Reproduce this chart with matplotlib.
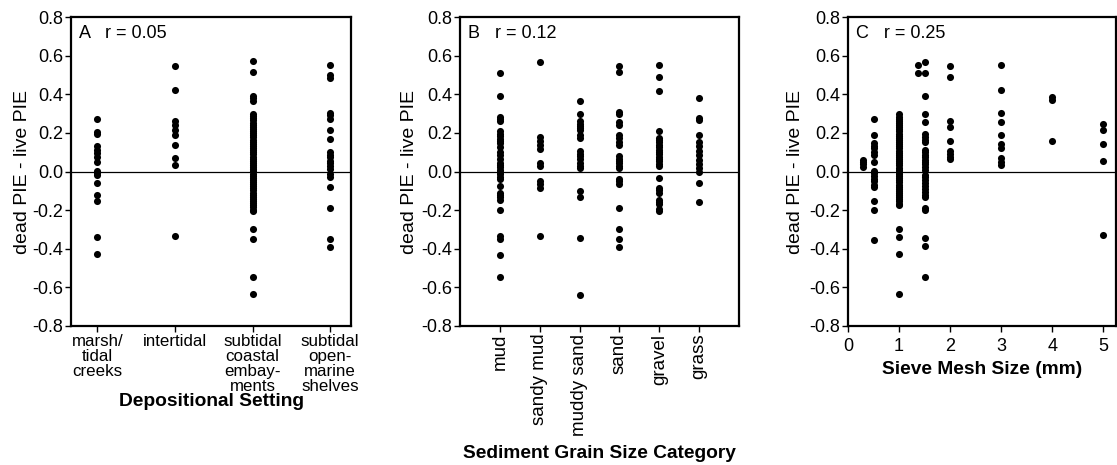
import matplotlib.pyplot as plt

plt.rcParams['font.family'] = ['Liberation Sans', 'DejaVu Sans']

# Panel A: depositional setting
setting_labels = ["marsh/\ntidal\ncreeks", "intertidal", "subtidal\ncoastal\nembay-\nments",
                  "subtidal\nopen-\nmarine\nshelves"]
marsh = [0.275, 0.206, 0.194, 0.132, 0.113, 0.095, 0.074, 0.050, 0.005, -0.007, -0.019,
         -0.059, -0.119, -0.154, -0.339, -0.429]
intertidal = [0.547, 0.423, 0.261, 0.239, 0.218, 0.189, 0.139, 0.068, 0.036, -0.332]
coastal = [0.571, 0.514, 0.393, 0.379, 0.367, 0.298, 0.287, 0.276, 0.265, 0.254, 0.243,
           0.232, 0.221, 0.210, 0.199, 0.188, 0.177, 0.166, 0.155, 0.144, 0.133, 0.122,
           0.111, 0.100, 0.089, 0.078, 0.067, 0.056, 0.045, 0.034, 0.023, 0.012, 0.001,
           -0.010, -0.021, -0.032, -0.043, -0.054, -0.065, -0.076, -0.087, -0.098, -0.109,
           -0.120, -0.131, -0.142, -0.153, -0.164, -0.175, -0.186, -0.197, -0.204,
           -0.298, -0.348, -0.544, -0.636]
shelves = [0.551, 0.500, 0.487, 0.306, 0.291, 0.275, 0.215, 0.171, 0.102, 0.088, 0.074,
           0.057, 0.045, 0.029, 0.014, -0.010, -0.028, -0.080, -0.189, -0.348, -0.390]

# Panel B: sediment grain size
grain_labels = ["mud", "sandy mud", "muddy sand", "sand", "gravel", "grass"]
mud = [0.509, 0.391, 0.284, 0.272, 0.260, 0.208, 0.196, 0.183, 0.171, 0.159, 0.147, 0.125,
       0.100, 0.088, 0.064, 0.045, 0.033, 0.022, 0.010, -0.002, -0.014, -0.026, -0.038,
       -0.073, -0.109, -0.121, -0.133, -0.145, -0.201, -0.336, -0.349, -0.431, -0.545]
sandy_mud = [0.569, 0.178, 0.161, 0.140, 0.116, 0.043, 0.028, -0.048, -0.062, -0.087, -0.332]
muddy_sand = [0.368, 0.297, 0.261, 0.249, 0.237, 0.225, 0.213, 0.190, 0.176, 0.106, 0.093,
              0.081, 0.064, 0.045, 0.029, 0.016, -0.100, -0.133, -0.346, -0.637]
sand = [0.548, 0.514, 0.308, 0.296, 0.256, 0.242, 0.187, 0.175, 0.151, 0.137, 0.080, 0.067,
        0.055, 0.043, 0.029, 0.017, -0.040, -0.050, -0.064, -0.188, -0.298, -0.351, -0.389]
gravel = [0.550, 0.488, 0.420, 0.211, 0.175, 0.163, 0.151, 0.138, 0.126, 0.114, 0.102, 0.090,
          0.078, 0.066, 0.054, 0.041, 0.029, -0.031, -0.083, -0.095, -0.109, -0.145, -0.157,
          -0.170, -0.192, -0.206]
grass = [0.382, 0.279, 0.268, 0.192, 0.152, 0.130, 0.107, 0.085, 0.062, 0.040, 0.019, -0.002,
         -0.059, -0.157]

# Panel C: sieve mesh size (mm)
mesh_sizes = [0.3, 0.5, 1.0, 1.37, 1.5, 2, 3, 4, 5]
mesh_03 = [0.062, 0.050, 0.038, 0.026]
mesh_05 = [0.270, 0.192, 0.149, 0.135, 0.121, 0.101, 0.087, 0.050, 0.005, -0.009, -0.023,
           -0.036, -0.050, -0.068, -0.081, -0.154, -0.201, -0.352]
mesh_10 = [0.296, 0.285, 0.274, 0.263, 0.252, 0.241, 0.230, 0.219, 0.208, 0.197, 0.186,
           0.175, 0.164, 0.153, 0.142, 0.131, 0.120, 0.109, 0.098, 0.087, 0.076, 0.065,
           0.054, 0.043, 0.032, 0.021, 0.010, -0.001, -0.012, -0.023, -0.034, -0.045,
           -0.056, -0.067, -0.078, -0.089, -0.100, -0.111, -0.122, -0.133, -0.144, -0.155,
           -0.166, -0.172, -0.298, -0.340, -0.428, -0.636]
mesh_137 = [0.553, 0.511]
mesh_15 = [0.570, 0.511, 0.393, 0.298, 0.256, 0.194, 0.180, 0.166, 0.153, 0.114, 0.102,
           0.088, 0.076, 0.062, 0.050, 0.038, 0.024, 0.007, -0.016, -0.029, -0.043, -0.057,
           -0.073, -0.090, -0.106, -0.120, -0.132, -0.189, -0.201, -0.345, -0.388, -0.544]
mesh_2 = [0.549, 0.490, 0.260, 0.231, 0.158, 0.107, 0.090, 0.076, 0.064]
mesh_3 = [0.553, 0.421, 0.305, 0.258, 0.189, 0.144, 0.123, 0.069, 0.050, 0.035]
mesh_4 = [0.386, 0.373, 0.156]
mesh_5 = [0.248, 0.213, 0.144, 0.055, -0.331]

y_ticks = [-0.8, -0.6, -0.4, -0.2, 0.0, 0.2, 0.4, 0.6, 0.8]
y_tick_labels = ["-0.8", "-0.6", "-0.4", "-0.2", "0.0", "0.2", "0.4", "0.6", "0.8"]

setting_groups = [marsh, intertidal, coastal, shelves]
grain_groups = [mud, sandy_mud, muddy_sand, sand, gravel, grass]
mesh_groups = [mesh_03, mesh_05, mesh_10, mesh_137, mesh_15, mesh_2, mesh_3, mesh_4, mesh_5]

fig = plt.figure(figsize=(11.17, 4.65), dpi=100)
axA = fig.add_axes([0.0636, 0.299, 0.2507, 0.664])
axB = fig.add_axes([0.4118, 0.299, 0.2498, 0.664])
axC = fig.add_axes([0.7592, 0.299, 0.2399, 0.664])

tick_fs = 13
lab_fs = 13.8
dot = 26


def style(ax, tag, label_x):
    ax.set_ylim(-0.8, 0.8)
    ax.set_yticks(y_ticks)
    ax.set_yticklabels(y_tick_labels, fontsize=tick_fs)
    ax.axhline(0, color='black', lw=0.9, zorder=1)
    for s in ax.spines.values():
        s.set_linewidth(1.6)
    ax.tick_params(direction='out', length=4, width=1, pad=1.5, labelsize=tick_fs)
    ax.set_ylabel("dead PIE - live PIE", fontsize=14)
    ax.yaxis.set_label_coords(label_x, 0.5)
    ax.text(0.03, 0.975, tag, transform=ax.transAxes, fontsize=13, va='top', ha='left')


# A
for i, g in enumerate(setting_groups):
    axA.scatter([i + 1] * len(g), g, s=dot, color='black', lw=0, zorder=3)
axA.set_xlim(0.66, 4.27)
axA.set_xticks(range(1, 5))
style(axA, "A   r = 0.05", -0.143)
axA.set_xticklabels(setting_labels, fontsize=12.2, linespacing=1.02)
axA.set_xlabel("Depositional Setting", fontsize=lab_fs, fontweight='bold', labelpad=-1)

# B
for i, g in enumerate(grain_groups):
    axB.scatter([i + 1] * len(g), g, s=dot, color='black', lw=0, zorder=3)
axB.set_xlim(0, 7)
axB.set_xticks(range(1, 7))
style(axB, "B   r = 0.12", -0.151)
axB.set_xticklabels(grain_labels, rotation=90, fontsize=13.5)
axB.set_xlabel("Sediment Grain Size Category", fontsize=lab_fs, fontweight='bold', labelpad=7)

# C
for m, g in zip(mesh_sizes, mesh_groups):
    axC.scatter([m] * len(g), g, s=dot, color='black', lw=0, zorder=3)
axC.set_xlim(0, 5.25)
axC.set_xticks(range(0, 6))
style(axC, "C   r = 0.25", -0.164)
axC.tick_params(axis='x', pad=5)
axC.set_xlabel("Sieve Mesh Size (mm)", fontsize=lab_fs, fontweight='bold', labelpad=4)

fig.savefig("out.png", dpi=100)
